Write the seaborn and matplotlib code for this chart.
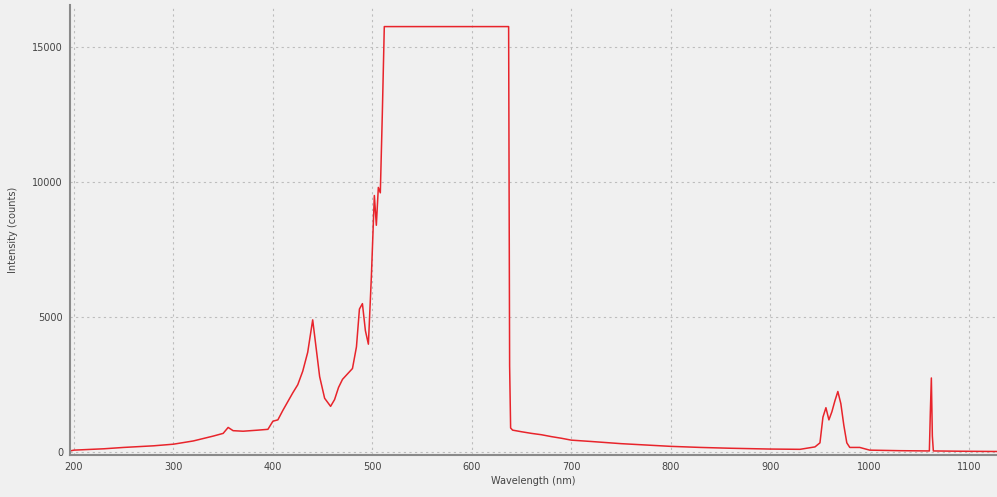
import numpy as np
import pandas as pd
import seaborn as sns
import matplotlib.pyplot as plt

# spectrum (nm, counts)
wavelength = [196, 200, 230, 250, 280, 300, 320, 340, 350, 355, 360, 370, 385, 395,
              400, 405, 410, 420, 425, 430, 435, 440, 443, 447, 452, 458, 462, 466,
              470, 475, 480, 484, 487, 490, 493, 496, 499, 502, 504, 506, 508, 510,
              512, 560, 600, 637, 638, 639, 641, 650, 660, 670, 680, 690, 700, 720,
              750, 780, 800, 830, 860, 900, 930, 945, 950, 953, 956, 959, 962, 965,
              968, 971, 974, 977, 980, 990, 1000, 1030, 1060, 1061, 1062, 1063,
              1064, 1090, 1128]
intensity = [50, 80, 130, 180, 240, 300, 420, 600, 700, 920, 800, 780, 820, 850,
             1150, 1200, 1550, 2200, 2500, 3000, 3700, 4900, 4000, 2800, 2000, 1700,
             1950, 2400, 2700, 2900, 3100, 3900, 5300, 5500, 4500, 4000, 6500, 9500,
             8400, 9800, 9600, 12500, 15750, 15750, 15750, 15750, 3200, 900, 820,
             760, 700, 650, 580, 520, 450, 400, 320, 260, 220, 180, 150, 120, 110,
             200, 350, 1300, 1650, 1200, 1500, 1900, 2250, 1800, 1000, 350, 180,
             180, 80, 60, 50, 1500, 2750, 600, 50, 40, 30]

df = pd.DataFrame({"wavelength": wavelength, "intensity": intensity})

sns.set_style("whitegrid")
plt.rcParams["font.family"] = ["DejaVu Sans"]

fig = plt.figure(figsize=(9.97, 4.97), dpi=100, facecolor="#f0f0f0")
ax = fig.add_axes([0.0702, 0.0845, 0.9298, 0.9055])
ax.set_facecolor("#f0f0f0")

sns.lineplot(data=df, x="wavelength", y="intensity", color="#e8242b",
             linewidth=1.1, ax=ax)

ax.set_xlim(196, 1128)
ax.set_ylim(-100, 16550)
ax.set_xticks(range(200, 1101, 100))
ax.set_yticks([0, 5000, 10000, 15000])
ax.grid(True, color="#bdbdbd", linestyle=(0, (2, 3)), linewidth=0.8)
for s in ["top", "right"]:
    ax.spines[s].set_visible(False)
for s in ["left", "bottom"]:
    ax.spines[s].set_color("#8a8a8a")
    ax.spines[s].set_linewidth(1.5)
ax.tick_params(axis="both", labelsize=7, colors="#555555", length=3,
               width=1, direction="out", pad=2)
ax.tick_params(axis="both", labelcolor="#444444")
ax.set_xlabel("Wavelength (nm)", fontsize=7, color="#444444", labelpad=3)
ax.set_ylabel("Intensity (counts)", fontsize=7, color="#444444", labelpad=10)

fig.savefig("out.png", dpi=100, facecolor="#f0f0f0")
